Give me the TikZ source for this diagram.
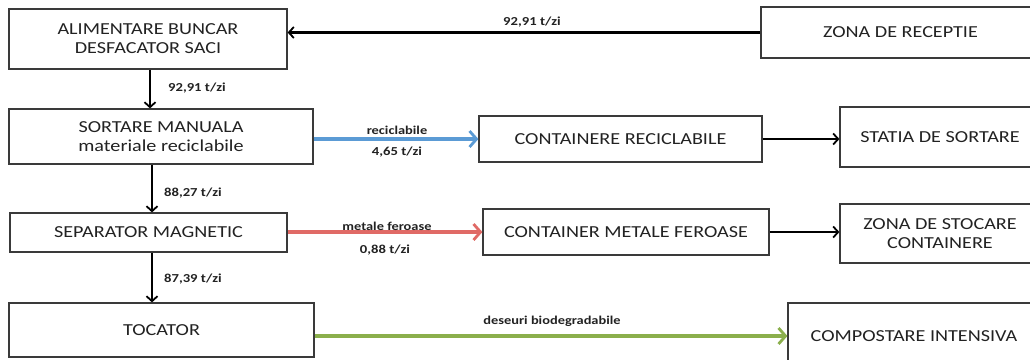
\documentclass[tikz,border=0pt]{standalone}
\usepackage{fontspec}
\setmainfont{Carlito}[FakeStretch=1.2]
\usetikzlibrary{arrows.meta}
\definecolor{flowblue}{HTML}{5B9BD5}
\definecolor{flowred}{HTML}{E06A66}
\definecolor{flowgreen}{HTML}{8BAF4C}
\definecolor{boxline}{HTML}{3A3A3A}
\definecolor{txt}{HTML}{222222}
\tikzset{
  procbox/.style={draw=boxline, line width=1.2pt, fill=white, rectangle,
    inner sep=0pt, align=center, text=txt, font=\fontsize{16.8}{19}\selectfont},
  flowarrow/.style={line width=2.2pt, -{Straight Barb[length=5pt,width=11pt,line width=1.8pt]}},
  colarrow/.style={line width=3.4pt, -{Straight Barb[length=7pt,width=16pt,line width=2.8pt]}},
  rate/.style={font=\bfseries\fontsize{12.2}{14}\selectfont, text=txt, inner sep=0pt},
  smallrate/.style={font=\bfseries\fontsize{12}{14}\selectfont, text=txt, inner sep=0pt}
}
\begin{document}
\begin{tikzpicture}[x=1pt,y=-1pt]
\useasboundingbox (0,0) rectangle (1030,359);
\clip (0,0) rectangle (1030,359);

% process boxes (px-like units, y pointing down)
\node[procbox, minimum width=278pt, minimum height=60pt] (buncar) at (148,39) {ALIMENTARE BUNCAR\\DESFACATOR SACI};
\node[procbox, minimum width=279pt, minimum height=51pt] (receptie) at (900.5,32.5) {ZONA DE RECEPTIE};
\node[procbox, minimum width=304pt, minimum height=55pt] (sortare) at (161,136.5) {SORTARE MANUALA\\materiale reciclabile};
\node[procbox, minimum width=283pt, minimum height=46pt] (contrec) at (620.5,139) {CONTAINERE RECICLABILE};
\node[procbox, minimum width=200pt, minimum height=60pt] (statia) at (940,137) {STATIA DE SORTARE};
\node[procbox, minimum width=277pt, minimum height=39pt] (separator) at (148.5,232.5) {SEPARATOR MAGNETIC};
\node[procbox, minimum width=286pt, minimum height=46pt] (contfer) at (626,232) {CONTAINER METALE FEROASE};
\node[procbox, minimum width=200pt, minimum height=59pt] (stocare) at (940,233.5) {ZONA DE STOCARE\\CONTAINERE};
\node[procbox, minimum width=305pt, minimum height=54pt] (tocator) at (161.5,330) {TOCATOR};
\node[procbox, minimum width=252pt, minimum height=66pt, text depth=0pt] (compost) at (914,336) {COMPOSTARE INTENSIVA};

% main line
\draw[flowarrow] (receptie.west) -- (receptie.west -| buncar.east);
\draw[flowarrow] ([xshift=2pt]buncar.south) -- ([xshift=2pt]buncar.south |- sortare.north);
\draw[flowarrow] ([xshift=3.5pt]separator.north |- sortare.south) -- ([xshift=3.5pt]separator.north);
\draw[flowarrow] ([xshift=3.5pt]separator.south) -- ([xshift=3.5pt]separator.south |- tocator.north);

% side streams
\draw[colarrow, flowblue] (sortare.east |- contrec.west) -- (contrec.west);
\draw[flowarrow] (contrec.east) -- (contrec.east -| statia.west);
\draw[colarrow, flowred] (separator.east |- contfer.west) -- (contfer.west);
\draw[flowarrow] (contfer.east) -- (contfer.east -| stocare.west);
\draw[colarrow, flowgreen] (tocator.east |- compost.west) -- (compost.west);

% flow rates
\node[rate] (r1) at (532,22) {92,91 t/zi};
\node[rate, anchor=west] (r2) at (168,88) {92,91 t/zi};
\node[rate, anchor=west] (r3) at (164,193) {88,27 t/zi};
\node[rate, anchor=west] (r4) at (164,279) {87,39 t/zi};
\node[smallrate] (l1) at (397,130) {reciclabile};
\node[rate] (r5) at (397,152) {4,65 t/zi};
\node[smallrate] (l2) at (387,226) {metale feroase};
\node[rate] (r6) at (385,250) {0,88 t/zi};
\node[smallrate] (l3) at (552,321) {deseuri biodegradabile};
\end{tikzpicture}
\end{document}
